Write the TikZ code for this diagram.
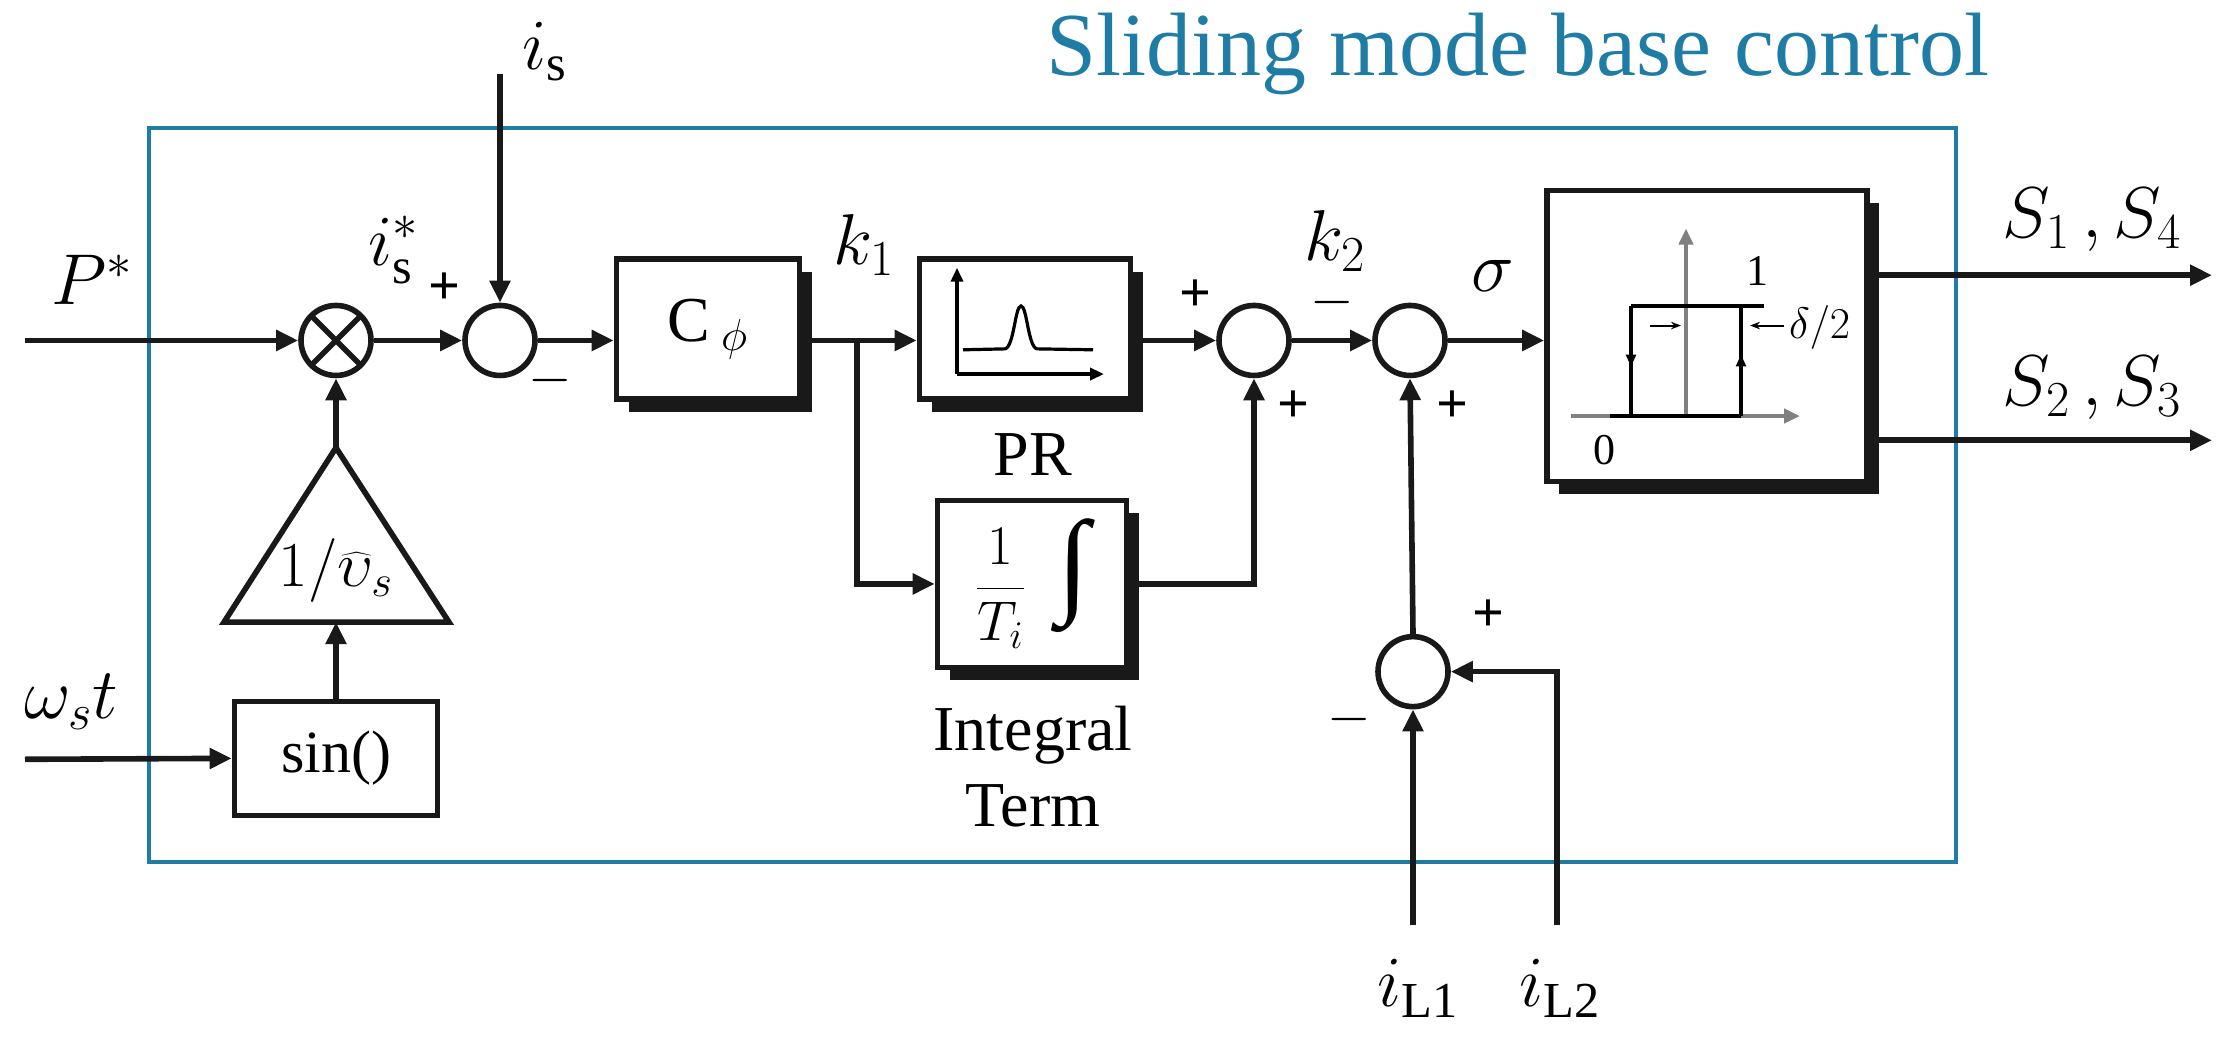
\RequirePackage{fix-cm}
\documentclass[tikz,border=0pt]{standalone}
\usepackage{fontspec}
\setmainfont{Liberation Serif}
\usetikzlibrary{arrows.meta,shadows,calc}
\definecolor{bbl}{RGB}{31,125,165}
\begin{document}
\begin{tikzpicture}[x=0.5pt,y=-0.4664pt,
  ln/.style={line width=2.8pt,draw=black!90},
  ar/.style={ln,-{Triangle[length=11pt,width=10pt]}},
  blk/.style={ln,fill=white,rectangle,inner sep=0pt,drop shadow={shadow xshift=6pt,shadow yshift=-6.5pt,fill=black!90,opacity=1}},
  sm/.style={ln,circle,minimum size=35pt,inner sep=0pt,fill=white},
  lb/.style={font=\fontsize{36}{38}\selectfont},
  pm/.style={font=\fontsize{28}{30}\selectfont\bfseries}]
\useasboundingbox (0,0) rectangle (2226,1113);
\draw[bbl,line width=2.2pt] (149,137) rectangle (1956,924);
\node[bbl,font=\fontsize{45}{47}\selectfont] (title) at (1518,58) {Sliding mode base control};
% nodes
\node[sm,path picture={\draw[line width=2.8pt] (path picture bounding box.north west)--(path picture bounding box.south east) (path picture bounding box.north east)--(path picture bounding box.south west);}] (mul) at (336,365) {};
\node[sm] (s1) at (500,365) {};
\node[blk,minimum width=91.5pt,minimum height=70pt,font=\fontsize{32}{34}\selectfont] (cp) at (708,353) {C\,$_{\phi}$};
\node[blk,minimum width=105.5pt,minimum height=70pt] (pr) at (1025,353) {};
\node[blk,minimum width=94.5pt,minimum height=83.5pt,font=\fontsize{28}{30}\selectfont] (it) at (1032,626) {$\displaystyle\frac{1}{T_i}$\;\;{\fontsize{58}{58}\selectfont\itshape ∫}};
\node[sm] (s2) at (1254,365) {};
\node[sm] (s3) at (1410,365) {};
\node[sm] (s4) at (1413,720) {};
\node[blk,minimum width=160pt,minimum height=145.5pt] (rl) at (1707,360) {};
\node[ln,rectangle,minimum width=101.5pt,minimum height=57pt,font=\fontsize{30}{32}\selectfont] (sn) at (336,813) {sin()};
\coordinate (apex) at (336,480);
\coordinate (base) at (336,667);
\draw[ln,line join=miter] (apex) -- (224,667) -- (449,667) -- cycle;
\node[font=\fontsize{32}{34}\selectfont] at (336,612) {$1/\widehat{\upsilon}_s$};
% PR graph
\draw[line width=2pt,-{Triangle[length=7pt,width=6pt]}] (957,401) -- (957,287);
\draw[line width=2pt,-{Triangle[length=7pt,width=6pt]}] (957,401) -- (1104,401);
\draw[line width=1.6pt] (963,375) -- (1005,374) .. controls (1014,372) and (1015,328) .. (1021,328) .. controls (1027,328) and (1028,372) .. (1037,374) -- (1093,375);
% relay graph
\draw[gray,line width=2.4pt,-{Triangle[length=8pt,width=7pt]}] (1686,446) -- (1686,245);
\draw[gray,line width=2.4pt,-{Triangle[length=8pt,width=7pt]}] (1571,446) -- (1800,446);
\draw[line width=2pt] (1610,446) -- (1741,446) (1631,446) -- (1631,328) (1741,446) -- (1741,328) (1631,328) -- (1764,328);
\draw[line width=1.2pt,-{Triangle[length=6pt,width=5pt]}] (1631,360) -- (1631,393);
\draw[line width=1.2pt,-{Triangle[length=6pt,width=5pt]}] (1741,400) -- (1741,380);
\draw[line width=1pt,-{Stealth[length=5pt]}] (1650,349) -- (1681,349);
\draw[line width=1pt,-{Stealth[length=5pt]}] (1784,349) -- (1750,349);
\node[font=\fontsize{22}{24}\selectfont,anchor=west] at (1782,351) {$\delta/2$};
\node[font=\fontsize{22}{24}\selectfont] at (1757,291) {1};
\node[font=\fontsize{22}{24}\selectfont] at (1604,483) {0};
% connectors
\coordinate (pin) at (25,365);
\coordinate (win) at (25,814);
\coordinate (isin) at (500,79);
\coordinate (br) at (857,365);
\coordinate (il1) at (1413,992);
\coordinate (il2) at (1557,992);
\coordinate (o1) at (2212,295);
\coordinate (o2) at (2212,472);
\draw[ar] (pin) -- (mul.west);
\draw[ar] (mul.east) -- (s1.west);
\draw[ar] (isin) -- (s1.north);
\draw[ar] (s1.east) -- (s1.east -| cp.west);
\draw[ar] (s1.east -| cp.east) -- (s1.east -| pr.west);
\draw[ar] (br) |- (it.west);
\draw[ar] (s1.east -| pr.east) -- (s2.west);
\draw[ar] (it.east) -| (s2.south);
\draw[ar] (s2.east) -- (s3.west);
\draw[ar] (s3.east) -- (s3.east -| rl.west);
\draw[ar] (s4.north) -- (s3.south);
\draw[ar] (il1) -- (s4.south);
\draw[ar] (il2) |- (s4.east);
\draw[ar] (rl.east|-o1) -- (o1);
\draw[ar] (rl.east|-o2) -- (o2);
\draw[ar] (win) -- (sn.west);
\draw[ar] (sn.north) -- (base);
\draw[ar] (apex) -- (mul.south);
% labels
\node[lb] at (92,300) {$P^{*}$};
\node[lb] at (71,752) {$\omega_s t$};
\node[lb] at (545,55) {$i_{\mathrm{s}}$};
\node[lb] at (394,268) {$i^{*}_{\mathrm{s}}$};
\node[lb] at (864,263) {$k_1$};
\node[lb] at (1335,258) {$k_2$};
\node[lb] at (1493,296) {$\sigma$};
\node[lb] at (2092,236) {$S_1\,,S_4$};
\node[lb] at (2092,416) {$S_2\,,S_3$};
\node[lb] at (1418,1060) {$i_{\mathrm{L1}}$};
\node[lb] at (1560,1060) {$i_{\mathrm{L2}}$};
\node[font=\fontsize{32}{34}\selectfont] at (1033,487) {PR};
\node[font=\fontsize{32}{38}\selectfont,align=center] at (1033,822) {Integral\\Term};
\node[pm] at (444,309) {+};
\node[pm] at (550,408) {$-$};
\node[pm] at (1195,317) {+};
\node[pm] at (1293,436) {+};
\node[pm] at (1332,324) {$-$};
\node[pm] at (1452,436) {+};
\node[pm] at (1488,660) {+};
\node[pm] at (1349,771) {$-$};
\end{tikzpicture}
\end{document}
